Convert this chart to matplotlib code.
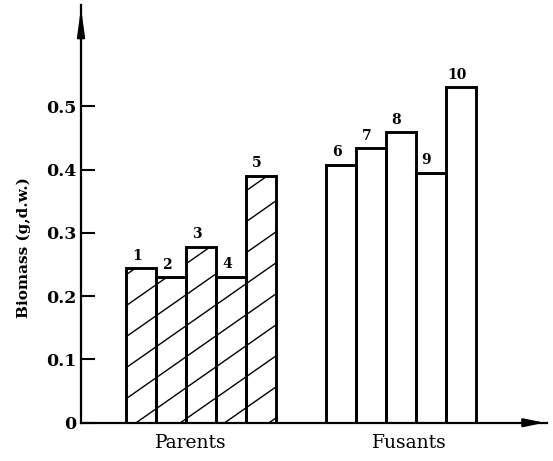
import numpy as np
import matplotlib.pyplot as plt
from matplotlib.collections import LineCollection

# Biomass values (g, dry weight)
bar_ids = ['1', '2', '3', '4', '5', '6', '7', '8', '9', '10']
biomass = [0.244, 0.230, 0.278, 0.231, 0.390, 0.408, 0.434, 0.459, 0.395, 0.530]
x_pos = [2, 3, 4, 5, 6, 8.65, 9.65, 10.65, 11.65, 12.65]
hatched = [True, True, True, True, True, False, False, False, False, False]

group_names = ['Parents', 'Fusants']
group_pos = [3.67, 10.93]

yticks = [0, 0.1, 0.2, 0.3, 0.4, 0.5]
ytick_labels = ['0', '0.1', '0.2', '0.3', '0.4', '0.5']

plt.rcParams['font.family'] = ['DejaVu Serif']

fig = plt.figure(figsize=(5.53, 4.61), dpi=100)
ax = fig.add_axes([0.1465, 0.083, 0.843, 0.906])
ax.set_xlim(0, 15.53)
ax.set_ylim(0, 0.66)

bars = ax.bar(x_pos, biomass, width=1.0, facecolor='white',
              edgecolor='black', linewidth=2.1, zorder=2)

# sparse diagonal hatching, continuous across the parent bars
slope = 0.0332
step = 0.049
xs = np.array([0.0, 15.53])
segs = []
for c in np.arange(-0.6, 0.66, step):
    segs.append(np.column_stack([xs, c + slope * xs]))

for b, h in zip(bars, hatched):
    if h:
        lc = LineCollection(segs, colors='black', linewidths=1.0, zorder=3)
        ax.add_collection(lc)
        lc.set_clip_path(b)

# redraw edges on top of the hatching
for b in bars:
    b.set_zorder(4)
    b.set_facecolor('none')

for b, name in zip(bars, bar_ids):
    ax.annotate(name, (b.get_x() + b.get_width() / 2, b.get_height()),
                xytext=(-3, 4), textcoords='offset points',
                ha='center', va='bottom', fontsize=10, fontweight='bold')

for s in ['top', 'right']:
    ax.spines[s].set_visible(False)
for s in ['left', 'bottom']:
    ax.spines[s].set_linewidth(1.6)

ax.set_yticks(yticks)
ax.set_yticklabels(ytick_labels, fontsize=12.5, fontweight='bold')
ax.tick_params(axis='y', direction='in', length=10, width=1.5, pad=3)
ax.set_xticks(group_pos)
ax.set_xticklabels(group_names, fontsize=13.5)
ax.tick_params(axis='x', length=0, pad=8)

ax.set_ylabel('Biomass (g,d.w.)', fontsize=11, fontweight='bold')
ax.yaxis.set_label_coords(-0.107, 0.42)

# arrow heads on the axes
ax.annotate('', xy=(0, 1.0), xytext=(0, 0.93), xycoords='axes fraction',
            arrowprops=dict(arrowstyle='-|>,head_length=1.6,head_width=0.22',
                            color='black', lw=1.6))
ax.annotate('', xy=(1.0, 0), xytext=(0.95, 0), xycoords='axes fraction',
            arrowprops=dict(arrowstyle='-|>,head_length=1.2,head_width=0.25',
                            color='black', lw=1.6))

fig.savefig('out.png', dpi=100)
